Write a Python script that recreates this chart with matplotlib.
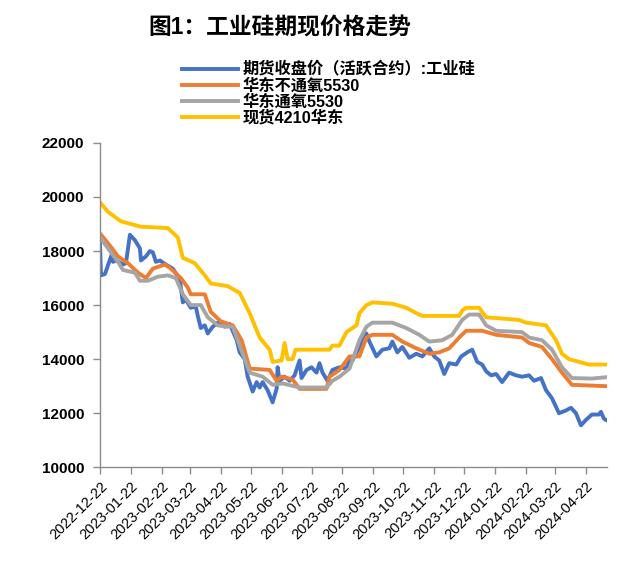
import pandas as pd
import matplotlib
matplotlib.use("Agg")
import matplotlib.pyplot as plt

plt.rcParams['font.family'] = ['Liberation Sans', 'Noto Sans CJK SC', 'DejaVu Sans']

# 期货收盘价(活跃合约):工业硅
fut_dates = ["2022-12-22", "2022-12-23", "2022-12-27", "2023-01-03", "2023-01-04", "2023-01-07",
             "2023-01-14", "2023-01-17", "2023-01-21", "2023-01-26", "2023-01-31", "2023-02-01",
             "2023-02-06", "2023-02-10", "2023-02-13", "2023-02-16", "2023-02-20", "2023-02-26",
             "2023-03-05", "2023-03-12", "2023-03-15", "2023-03-18", "2023-03-23", "2023-03-28",
             "2023-03-30", "2023-04-02", "2023-04-06", "2023-04-09", "2023-04-14", "2023-04-19",
             "2023-04-26", "2023-05-01", "2023-05-08", "2023-05-11", "2023-05-16", "2023-05-19",
             "2023-05-24", "2023-05-28", "2023-05-31", "2023-06-03", "2023-06-08", "2023-06-13",
             "2023-06-17", "2023-06-18", "2023-06-20", "2023-06-25", "2023-06-30", "2023-07-05",
             "2023-07-10", "2023-07-12", "2023-07-17", "2023-07-22", "2023-07-27", "2023-07-30",
             "2023-08-02", "2023-08-07", "2023-08-12", "2023-08-19", "2023-08-26", "2023-08-29",
             "2023-09-01", "2023-09-08", "2023-09-15", "2023-09-18", "2023-09-25", "2023-10-01",
             "2023-10-08", "2023-10-11", "2023-10-16", "2023-10-21", "2023-10-28", "2023-11-04",
             "2023-11-10", "2023-11-17", "2023-11-22", "2023-11-27", "2023-12-02", "2023-12-07",
             "2023-12-14", "2023-12-19", "2023-12-25", "2023-12-30", "2024-01-04", "2024-01-09",
             "2024-01-13", "2024-01-18", "2024-01-23", "2024-01-29", "2024-02-05", "2024-02-12",
             "2024-02-18", "2024-02-25", "2024-03-01", "2024-03-08", "2024-03-13", "2024-03-19",
             "2024-03-26", "2024-04-02", "2024-04-07", "2024-04-12", "2024-04-17", "2024-04-22",
             "2024-04-28", "2024-05-05", "2024-05-07", "2024-05-10", "2024-05-12"]
fut_vals = [18300, 17100, 17150, 17900, 17600, 17650,
            17500, 17550, 18600, 18400, 18100, 17650,
            17800, 18000, 17950, 17600, 17650, 17500,
            17350, 16950, 16100, 16200, 15900, 15950,
            15600, 15150, 15250, 14950, 15200, 15350,
            15200, 15300, 14700, 14250, 14000, 13350,
            12800, 13150, 12950, 13150, 12850, 12400,
            12900, 13700, 13200, 13350, 13200, 13400,
            13950, 13300, 13600, 13700, 13500, 13850,
            13500, 13200, 13600, 13700, 13650, 13950,
            13950, 14450, 14950, 14650, 14100, 14350,
            14400, 14650, 14250, 14450, 14050, 14200,
            14100, 14400, 14100, 13950, 13450, 13850,
            13800, 14100, 14250, 14350, 13900, 13800,
            13550, 13400, 13450, 13150, 13500, 13400,
            13350, 13400, 13200, 13300, 12850, 12550,
            12000, 12100, 12200, 12000, 11550, 11750,
            11950, 11950, 12050, 11800, 11750]

# 华东不通氧5530
no_oxy_dates = ["2022-12-22", "2023-01-02", "2023-01-09", "2023-01-19", "2023-01-29", "2023-02-06",
                "2023-02-13", "2023-02-25", "2023-03-03", "2023-03-13", "2023-03-20", "2023-03-23",
                "2023-04-06", "2023-04-12", "2023-04-22", "2023-05-04", "2023-05-13", "2023-05-21",
                "2023-06-10", "2023-06-17", "2023-06-22", "2023-07-03", "2023-07-10", "2023-08-06",
                "2023-08-09", "2023-08-19", "2023-08-29", "2023-09-08", "2023-09-15", "2023-09-21",
                "2023-10-11", "2023-10-21", "2023-11-04", "2023-11-17", "2023-11-27", "2023-12-07",
                "2023-12-17", "2023-12-24", "2024-01-09", "2024-01-23", "2024-02-18", "2024-02-25",
                "2024-03-09", "2024-03-19", "2024-03-29", "2024-04-08", "2024-05-12"]
no_oxy_vals = [18650, 18150, 17800, 17550, 17200, 17000,
               17350, 17500, 17350, 17000, 16650, 16400,
               16400, 15750, 15400, 15250, 14700, 13650,
               13600, 13200, 13350, 13250, 12900, 12900,
               13350, 13600, 14100, 14100, 14800, 14900,
               14900, 14650, 14400, 14200, 14250, 14400,
               14800, 15050, 15050, 14900, 14800, 14600,
               14450, 14000, 13500, 13050, 13000]

# 华东通氧5530
oxy_dates = ["2022-12-22", "2022-12-30", "2023-01-09", "2023-01-14", "2023-01-26", "2023-01-31",
             "2023-02-08", "2023-02-18", "2023-02-28", "2023-03-08", "2023-03-15", "2023-03-23",
             "2023-04-02", "2023-04-09", "2023-04-19", "2023-04-29", "2023-05-04", "2023-05-11",
             "2023-05-21", "2023-06-03", "2023-06-13", "2023-06-23", "2023-07-10", "2023-08-06",
             "2023-08-12", "2023-08-19", "2023-08-29", "2023-09-08", "2023-09-15", "2023-09-21",
             "2023-10-11", "2023-10-25", "2023-11-07", "2023-11-17", "2023-11-30", "2023-12-10",
             "2023-12-20", "2023-12-27", "2024-01-06", "2024-01-13", "2024-01-23", "2024-02-18",
             "2024-02-25", "2024-03-09", "2024-03-19", "2024-03-29", "2024-04-08", "2024-04-28",
             "2024-05-12"]
oxy_vals = [18500, 18100, 17600, 17300, 17200, 16900,
            16900, 17050, 17100, 17000, 16400, 16000,
            16000, 15550, 15250, 15200, 15200, 14500,
            13500, 13350, 13050, 13100, 12950, 12950,
            13200, 13350, 13650, 14700, 15200, 15350,
            15350, 15150, 14900, 14650, 14700, 14900,
            15450, 15650, 15650, 15250, 15050, 15000,
            14800, 14700, 14350, 13700, 13300, 13280,
            13330]

# 现货4210华东
spot_dates = ["2022-12-22", "2022-12-30", "2023-01-12", "2023-02-01", "2023-02-28", "2023-03-10",
              "2023-03-15", "2023-03-27", "2023-04-06", "2023-04-12", "2023-04-29", "2023-05-11",
              "2023-05-21", "2023-05-31", "2023-06-10", "2023-06-13", "2023-06-22", "2023-06-25",
              "2023-06-28", "2023-07-03", "2023-07-06", "2023-08-09", "2023-08-12", "2023-08-19",
              "2023-08-26", "2023-09-05", "2023-09-08", "2023-09-15", "2023-09-21", "2023-10-11",
              "2023-10-25", "2023-11-04", "2023-11-10", "2023-12-17", "2023-12-20", "2023-12-24",
              "2024-01-06", "2024-01-13", "2024-02-15", "2024-02-22", "2024-03-13", "2024-03-23",
              "2024-03-29", "2024-04-05", "2024-04-15", "2024-04-25", "2024-05-12"]
spot_vals = [19800, 19450, 19100, 18900, 18850, 18500,
             17750, 17550, 17100, 16800, 16700, 16450,
             15700, 14800, 14350, 13900, 13950, 14600,
             14000, 14000, 14350, 14350, 14500, 14500,
             15000, 15250, 15700, 16000, 16100, 16050,
             15900, 15700, 15600, 15600, 15800, 15900,
             15900, 15550, 15450, 15350, 15250, 14700,
             14200, 14000, 13900, 13800, 13800]

tick_labels = ["2022-12-22", "2023-01-22", "2023-02-22", "2023-03-22", "2023-04-22", "2023-05-22",
               "2023-06-22", "2023-07-22", "2023-08-22", "2023-09-22", "2023-10-22", "2023-11-22",
               "2023-12-22", "2024-01-22", "2024-02-22", "2024-03-22", "2024-04-22"]

fig = plt.figure(figsize=(6.25, 5.74), dpi=100)
ax = fig.add_axes([0.16, 0.186, 0.811, 0.565])

lw = 2.8
ax.plot(pd.to_datetime(fut_dates), fut_vals, color="#4472C4", lw=lw, label="期货收盘价（活跃合约）:工业硅")
ax.plot(pd.to_datetime(no_oxy_dates), no_oxy_vals, color="#ED7D31", lw=lw, label="华东不通氧5530")
ax.plot(pd.to_datetime(oxy_dates), oxy_vals, color="#A5A5A5", lw=lw, label="华东通氧5530")
ax.plot(pd.to_datetime(spot_dates), spot_vals, color="#FFC000", lw=lw, label="现货4210华东")

ax.set_ylim(10000, 22000)
ax.set_yticks(range(10000, 22001, 2000))
ax.set_xlim(pd.Timestamp("2022-12-22"), pd.Timestamp("2024-05-13"))
ax.set_xticks(pd.to_datetime(tick_labels))
ax.set_xticklabels(tick_labels, rotation=45, ha="right", rotation_mode="anchor", fontsize=10.5)
for lbl in ax.get_yticklabels():
    lbl.set_fontweight("bold")
    lbl.set_fontsize(11)

for s in ["top", "right"]:
    ax.spines[s].set_visible(False)
for s in ["left", "bottom"]:
    ax.spines[s].set_color("#8c8c8c")
    ax.spines[s].set_linewidth(1)
ax.tick_params(axis="both", direction="out", length=5, color="#8c8c8c", width=1)
ax.tick_params(axis="y", pad=6.5)

fig.text(0.447, 0.951, "图1：工业硅期现价格走势", fontsize=16.4, fontweight="bold",
         ha="center", va="center")

fig.legend(loc="upper left", bbox_to_anchor=(0.291, 0.893), frameon=False,
           prop={"weight": "bold", "size": 11.7}, handlelength=3.45, handletextpad=0.3,
           labelspacing=0.02, borderaxespad=0, borderpad=0)

fig.savefig("out.png", dpi=100)
